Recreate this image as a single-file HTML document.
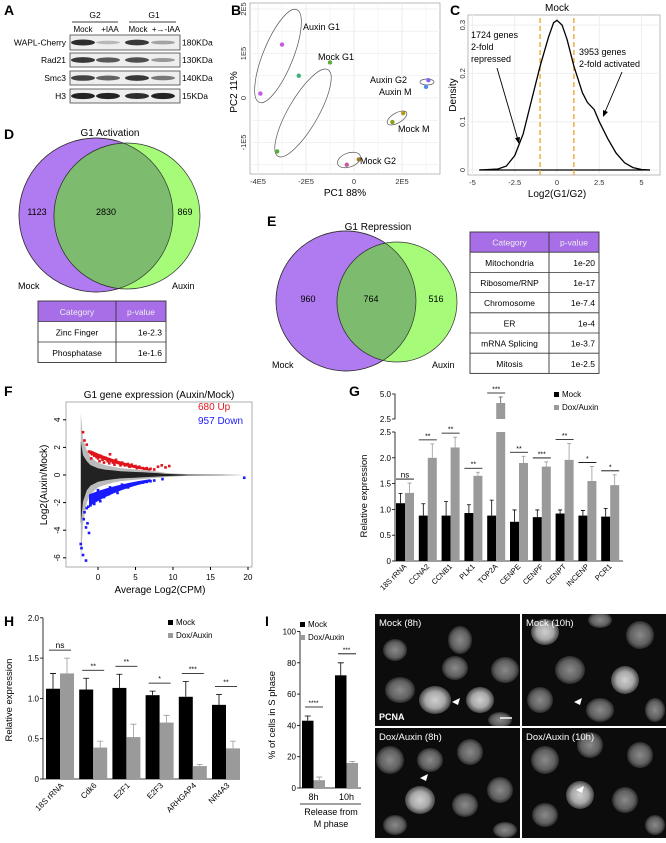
<!DOCTYPE html>
<html><head><meta charset="utf-8"><style>
body{margin:0;background:#fff;width:666px;height:838px;overflow:hidden;font-family:"Liberation Sans",Arial,sans-serif}
svg text{font-family:"Liberation Sans",Arial,sans-serif}
</style></head><body>
<svg id="s" width="666" height="838" viewBox="0 0 666 838" xmlns="http://www.w3.org/2000/svg">
<defs>
<radialGradient id="nuc" cx="50%" cy="50%" r="50%"><stop offset="0" stop-color="#8a8a8a"/><stop offset="0.7" stop-color="#606060"/><stop offset="1" stop-color="#2a2a2a"/></radialGradient>
<radialGradient id="nucb" cx="50%" cy="50%" r="50%"><stop offset="0" stop-color="#d0d0d0"/><stop offset="0.6" stop-color="#a8a8a8"/><stop offset="1" stop-color="#444"/></radialGradient>
</defs>
<g font-weight="bold" font-size="14" fill="#000">
<text x="4" y="15">A</text>
<text x="231" y="15">B</text>
<text x="450" y="15">C</text>
<text x="4" y="139">D</text>
<text x="267" y="226">E</text>
<text x="4" y="396">F</text>
<text x="349" y="396">G</text>
<text x="4" y="626">H</text>
<text x="265" y="626">I</text>
</g>

<g id="pa" font-size="8.5">
<text x="95" y="18" text-anchor="middle">G2</text>
<line x1="72" y1="22" x2="118" y2="22" stroke="#000" stroke-width="0.8"/>
<text x="154" y="18" text-anchor="middle">G1</text>
<line x1="129" y1="22" x2="176" y2="22" stroke="#000" stroke-width="0.8"/>
<text x="83" y="32" text-anchor="middle" font-size="8">Mock</text>
<text x="110" y="32" text-anchor="middle" font-size="8">+IAA</text>
<text x="138" y="32" text-anchor="middle" font-size="8">Mock</text>
<text x="166" y="32" text-anchor="middle" font-size="8">+→-IAA</text>
</g>

<g id="pb"></g>
<g id="pc"></g>

<g font-size="9">
<text x="110" y="136" text-anchor="middle" font-size="10">G1 Activation</text>
<circle cx="96" cy="215" r="77" fill="#b07af0" stroke="#333" stroke-width="0.7"/>
<circle cx="127" cy="216" r="73" fill="#a6fc78" stroke="#333" stroke-width="0.7"/>
<clipPath id="cd"><circle cx="96" cy="215" r="77"/></clipPath>
<circle cx="127" cy="216" r="73" fill="#7dbb6e" stroke="#333" stroke-width="0.7" clip-path="url(#cd)"/>
<circle cx="96" cy="215" r="77" fill="none" stroke="#333" stroke-width="0.7"/>
<text x="37" y="215" text-anchor="middle">1123</text><text x="106" y="215" text-anchor="middle">2830</text><text x="185" y="215" text-anchor="middle">869</text>
<text x="18" y="289">Mock</text><text x="172" y="289">Auxin</text>
</g>
<g id="td"></g>

<g font-size="9">
<text x="378" y="230" text-anchor="middle" font-size="10">G1 Repression</text>
<circle cx="346" cy="301" r="70" fill="#b07af0" stroke="#333" stroke-width="0.7"/>
<circle cx="397" cy="302" r="60" fill="#a6fc78" stroke="#333" stroke-width="0.7"/>
<clipPath id="ce"><circle cx="346" cy="301" r="70"/></clipPath>
<circle cx="397" cy="302" r="60" fill="#7dbb6e" stroke="#333" stroke-width="0.7" clip-path="url(#ce)"/>
<circle cx="346" cy="301" r="70" fill="none" stroke="#333" stroke-width="0.7"/>
<text x="308" y="302" text-anchor="middle">960</text><text x="371" y="302" text-anchor="middle">764</text><text x="436" y="302" text-anchor="middle">516</text>
<text x="272" y="368">Mock</text><text x="432" y="368">Auxin</text>
</g>
<g id="te"></g>

<g id="pf"></g>
<g id="pg"></g>
<g id="ph"></g>
<g id="pi"></g>
<g id="pm"></g>
</svg>
<script>
const NS="http://www.w3.org/2000/svg";
function mk(p,t,a,txt){const e=document.createElementNS(NS,t);for(const k in a)e.setAttribute(k,a[k]);if(txt!==undefined)e.textContent=txt;p.appendChild(e);return e;}
const $=id=>document.getElementById(id);

// ---------- A: blot ----------
const blotRows=["WAPL-Cherry","Rad21","Smc3","H3"];
const blotKDa=["180KDa","130KDa","140KDa","15KDa"];
const blotIntensity=[[0.9,0.25,0.85,0.35],[0.85,0.7,0.75,0.4],[0.8,0.65,0.85,0.55],[0.95,0.95,0.9,0.95]];
const rowY=[35,53,71,89],rowH=[15,14,14,14],laneX=[83,108,137,163];
(function(){const g=$("pa");
blotRows.forEach((r,i)=>{
 const b=mk(g,"rect",{x:70,y:rowY[i],width:110,height:rowH[i],fill:"#eee",stroke:"#444","stroke-width":0.8});
 
 const l=mk(g,"text",{x:66,y:rowY[i]+rowH[i]/2+3,"text-anchor":"end"},r);
 
 mk(g,"text",{x:182,y:rowY[i]+rowH[i]/2+3},blotKDa[i]);
 blotIntensity[i].forEach((v,j)=>{
  const e=mk(g,"ellipse",{cx:laneX[j],cy:rowY[i]+rowH[i]/2,rx:12,ry:1.2+2*v,fill:"#000","fill-opacity":v*0.9});
  
 });
});})();

// ---------- B: PCA ----------
const pcaX=[-2.6,-3.0,-3.9,-1.0,-2.3,-3.2,-0.3,0.2,3.1,3.0,2.05,1.6];
const pcaY=[2.5,1.2,0.1,0.8,0.5,-1.2,-1.5,-1.38,0.4,0.25,-0.34,-0.54];
const pcaColor=["#e8449a","#c55be0","#c55be0","#57b033","#3ab07a","#57b033","#c55b9a","#a07a20","#8a66e8","#4a8ef0","#b59a20","#8fa018"];
(function(){const g=$("pb");const X=v=>354+v*24,Y=v=>98-v*44.5;
mk(g,"rect",{x:250,y:3,width:190,height:171,fill:"#fff",stroke:"#aaa","stroke-width":0.8});
[-4,-3,-2,-1,0,1,2,3].forEach(t=>mk(g,"line",{x1:X(t),x2:X(t),y1:3,y2:174,stroke:"#eee","stroke-width":t%2?0.5:1}));
[-1.5,-1,-0.5,0,0.5,1,1.5,2].forEach(t=>mk(g,"line",{x1:250,x2:440,y1:Y(t),y2:Y(t),stroke:"#eee","stroke-width":0.8}));
[[-4,"-4E5"],[-2,"-2E5"],[0,"0"],[2,"2E5"]].forEach(([t,l])=>mk(g,"text",{x:X(t),y:184,"text-anchor":"middle","font-size":7.5,fill:"#333"},l));
[[2,"2E5"],[1,"1E5"],[0,"0"],[-1,"-1E5"]].forEach(([t,l])=>mk(g,"text",{x:246,y:Y(t),"text-anchor":"middle","font-size":7.5,fill:"#333",transform:`rotate(-90 246 ${Y(t)})`},l));
mk(g,"text",{x:345,y:196,"text-anchor":"middle","font-size":10},"PC1 88%");
mk(g,"text",{x:237,y:92,"text-anchor":"middle","font-size":10,transform:"rotate(-90 237 92)"},"PC2 11%");
[[278,56,15,50,22],[303,113,15,50,30],[349,160,12,7,-20],[427,82,7,3,0],[397,118,11,5,-30]].forEach(e=>mk(g,"ellipse",{cx:e[0],cy:e[1],rx:e[2],ry:e[3],transform:`rotate(${e[4]} ${e[0]} ${e[1]})`,fill:"none",stroke:"#555","stroke-width":0.7}));
pcaX.forEach((v,i)=>{const c=mk(g,"circle",{cx:X(v),cy:Y(pcaY[i]),r:2.2,fill:pcaColor[i]});});
[["Auxin G1",303,30],["Mock G1",318,60],["Auxin G2",370,83],["Auxin M",379,95],["Mock M",398,132],["Mock G2",360,164]].forEach(t=>mk(g,"text",{x:t[1],y:t[2],"font-size":9},t[0]));
})();

// ---------- C: density ----------
const densX=[-4.6,-3.5,-3,-2.5,-2,-1.5,-1,-0.5,-0.2,0,0.3,0.6,1,1.5,1.8,2.2,2.5,3,3.5,4,4.5,5,5.5];
const densY=[0,0.002,0.008,0.03,0.075,0.145,0.215,0.275,0.305,0.31,0.3,0.27,0.215,0.16,0.14,0.125,0.1,0.065,0.035,0.015,0.005,0.001,0];
(function(){const g=$("pc");const X=v=>557+v*16.9,Y=v=>170-v*483;
mk(g,"rect",{x:468,y:15,width:192,height:160,fill:"#fff",stroke:"#aaa","stroke-width":0.8});
[-5,-2.5,0,2.5,5].forEach(t=>mk(g,"line",{x1:X(t),x2:X(t),y1:15,y2:175,stroke:"#eee"}));
[0,0.1,0.2,0.3].forEach(t=>mk(g,"line",{x1:468,x2:660,y1:Y(t),y2:Y(t),stroke:"#eee"}));
[-5,-2.5,0,2.5,5].forEach(t=>mk(g,"text",{x:X(t),y:185,"text-anchor":"middle","font-size":7.5,fill:"#333"},String(t)));
[0,0.1,0.2,0.3].forEach(t=>mk(g,"text",{x:465,y:Y(t),"text-anchor":"middle","font-size":7.5,fill:"#333",transform:`rotate(-90 465 ${Y(t)})`},String(t)));
mk(g,"text",{x:557,y:11,"text-anchor":"middle","font-size":10},"Mock");
mk(g,"text",{x:557,y:197,"text-anchor":"middle","font-size":10},"Log2(G1/G2)");
mk(g,"text",{x:456,y:95,"text-anchor":"middle","font-size":10,transform:"rotate(-90 456 95)"},"Density");
mk(g,"line",{x1:X(-4.6),x2:X(5.5),y1:Y(0),y2:Y(0),stroke:"#000","stroke-width":1.2});
[-1,1].forEach(t=>mk(g,"line",{x1:X(t),x2:X(t),y1:18,y2:175,stroke:"#f0a020","stroke-width":1.3,"stroke-dasharray":"5,3"}));
let d=densX.map((v,i)=>(i?"L":"M")+X(v).toFixed(1)+","+Y(densY[i]).toFixed(1)).join("");
const p=mk(g,"path",{d,fill:"none",stroke:"#000","stroke-width":1.3});
[["1724 genes",38],["2-fold",50],["repressed",62]].forEach(t=>mk(g,"text",{x:471,y:t[1],"font-size":9},t[0]));
[["3953 genes",55],["2-fold activated",67]].forEach(t=>mk(g,"text",{x:579,y:t[1],"font-size":9},t[0]));
mk(g,"line",{x1:497,y1:68,x2:518,y2:140,stroke:"#000","stroke-width":0.9});
mk(g,"path",{d:"M519,144 l-4,-6 l5,-1z"});
mk(g,"line",{x1:622,y1:72,x2:605,y2:112,stroke:"#000","stroke-width":0.9});
mk(g,"path",{d:"M603,117 l0,-7 l5,2z"});
})();

// ---------- tables ----------
function table(gid,x,y,cw,rh,rows){const g=$(gid);
 mk(g,"rect",{x,y,width:cw[0]+cw[1],height:rh,fill:"#a86ee8"});
 mk(g,"text",{x:x+cw[0]/2,y:y+rh/2+3.5,"text-anchor":"middle","font-size":8.5,fill:"#eee"},"Category");
 mk(g,"text",{x:x+cw[0]+cw[1]/2,y:y+rh/2+3.5,"text-anchor":"middle","font-size":8.5,fill:"#eee"},"p-value");
 rows.forEach((r,i)=>{const yy=y+rh*(i+1);
  mk(g,"text",{x:x+cw[0]/2,y:yy+rh/2+3.5,"text-anchor":"middle","font-size":8.5},r[0]);
  mk(g,"text",{x:x+cw[0]+cw[1]-4,y:yy+rh/2+3.5,"text-anchor":"end","font-size":8.5},r[1]);
  mk(g,"line",{x1:x,x2:x+cw[0]+cw[1],y1:yy,y2:yy,stroke:"#333","stroke-width":0.8});});
 mk(g,"rect",{x,y,width:cw[0]+cw[1],height:rh*(rows.length+1),fill:"none",stroke:"#333","stroke-width":0.9});
 mk(g,"line",{x1:x+cw[0],x2:x+cw[0],y1:y,y2:y+rh*(rows.length+1),stroke:"#333","stroke-width":0.9});}
table("td",38,301,[78,50],20.5,[["Zinc Finger","1e-2.3"],["Phosphatase","1e-1.6"]]);
table("te",470,232,[79,50],20.2,[["Mitochondria","1e-20"],["Ribosome/RNP","1e-17"],["Chromosome","1e-7.4"],["ER","1e-4"],["mRNA Splicing","1e-3.7"],["Mitosis","1e-2.5"]]);

// ---------- F: MA plot ----------
const cloudA=[-2.3,-2,-1.5,-1,0,1,2,3,4,5,6,7,8,9,12,16,19.5];
const cloudUp=[4.5,2.6,1.8,1.3,0.9,0.7,0.6,0.5,0.45,0.4,0.35,0.3,0.25,0.15,0.05,0.02,0];
const cloudDn=[-6.5,-3.5,-2,-1.4,-0.9,-0.7,-0.55,-0.45,-0.4,-0.35,-0.3,-0.25,-0.2,-0.15,-0.05,-0.02,0];
const upA=[-2,-1.8,-1.5,-1.2,-1,-0.8,-0.5,-0.2,0,0.3,0.6,1,1.3,1.6,2,2.4,2.8,3.2,3.6,4,4.5,5,5.5,6,6.5,7,7.5,8,8.5,9,9.5,-0.9,0.2,0.8,1.5,2.2,3,4.2,5.2,6.2];
const upM=[3.1,2.5,2.2,1.7,1.6,1.5,1.4,1.3,1.2,1.4,1.1,1.25,1.0,1.5,0.9,1.1,0.85,0.9,0.7,0.8,0.75,0.65,0.6,0.5,0.5,0.45,0.4,0.6,0.7,0.55,0.65,1.2,1.0,0.9,0.85,0.75,0.7,0.6,0.5,0.45];
const dnA=[-2.3,-2.2,-2,-1.9,-1.8,-1.6,-1.5,-1.3,-1.2,-1,-0.8,-0.5,-0.2,0,0.3,0.6,1,1.4,1.8,2.2,2.6,3,3.5,4,4.5,5,5.5,6,6.5,7,7.5,8.6,19.5,-0.9,0,0.8,1.6,2.4,3.2,-1.6,-1.4];
const dnM=[-5,-5.3,-5.8,-3.2,-2.7,-3.8,-2.4,-2.3,-4.2,-2.2,-1.9,-2.1,-1.6,-1.5,-1.9,-1.3,-1.2,-1.4,-1.1,-1.0,-1.3,-0.9,-0.8,-0.9,-0.7,-0.65,-0.6,-0.55,-0.5,-0.45,-0.4,-0.3,-0.2,-1.7,-1.1,-1.6,-0.9,-1.1,-0.7,-6.2,-3.5];
(function(){const g=$("pf");const X=v=>98+v*7.5,Y=v=>475-v*13.8;
mk(g,"text",{x:159,y:398,"text-anchor":"middle","font-size":10},"G1 gene expression (Auxin/Mock)");
mk(g,"rect",{x:66,y:402,width:186,height:165,fill:"#fff",stroke:"#999","stroke-width":0.8});
[0,5,10,15,20].forEach(t=>{mk(g,"line",{x1:X(t),x2:X(t),y1:567,y2:570,stroke:"#000"});mk(g,"text",{x:X(t),y:580,"text-anchor":"middle","font-size":8},String(t));});
[4,2,0,-2,-4,-6].forEach(t=>{mk(g,"line",{x1:63,x2:66,y1:Y(t),y2:Y(t),stroke:"#000"});mk(g,"text",{x:60,y:Y(t),"text-anchor":"middle","font-size":8,transform:`rotate(-90 60 ${Y(t)})`},String(t));});
mk(g,"text",{x:160,y:593,"text-anchor":"middle","font-size":10},"Average Log2(CPM)");
mk(g,"text",{x:47,y:485,"text-anchor":"middle","font-size":10,transform:"rotate(-90 47 485)"},"Log2(Auxin/Mock)");
let d="M"+cloudA.map((a,i)=>X(a).toFixed(1)+","+Y(cloudUp[i]).toFixed(1)).join("L")+"L"+cloudA.slice().reverse().map((a,i)=>X(a).toFixed(1)+","+Y(cloudDn[cloudA.length-1-i]).toFixed(1)).join("L")+"Z";
mk(g,"path",{d,fill:"#bbb"});
let d2="M"+cloudA.map((a,i)=>X(a).toFixed(1)+","+Y(cloudUp[i]*0.55).toFixed(1)).join("L")+"L"+cloudA.slice().reverse().map((a,i)=>X(a).toFixed(1)+","+Y(cloudDn[cloudA.length-1-i]*0.55).toFixed(1)).join("L")+"Z";
mk(g,"path",{d:d2,fill:"#222"});
upA.forEach((a,i)=>{const c=mk(g,"rect",{x:X(a)-1.3,y:Y(upM[i])-1.3,width:2.6,height:2.6,fill:"#e0151b"});});
dnA.forEach((a,i)=>{const c=mk(g,"rect",{x:X(a)-1.3,y:Y(dnM[i])-1.3,width:2.6,height:2.6,fill:"#1a1aff"});});
mk(g,"path",{d:`M${X(-1)},${Y(1.5)} Q${X(2)},${Y(0.7)} ${X(7)},${Y(0.3)} L${X(7)},${Y(0.45)} Q${X(2)},${Y(1)} ${X(-1)},${Y(1.8)}Z`,fill:"#e0151b"});
mk(g,"path",{d:`M${X(-1.2)},${Y(-1.4)} Q${X(2)},${Y(-0.7)} ${X(7)},${Y(-0.3)} L${X(7)},${Y(-0.5)} Q${X(2)},${Y(-1.1)} ${X(-1.2)},${Y(-2.3)}Z`,fill:"#1a1aff"});
mk(g,"text",{x:198,y:410,"font-size":10,fill:"#e0151b"},"680 Up");
mk(g,"text",{x:198,y:424,"font-size":10,fill:"#1a1aff"},"957 Down");
})();

// ---------- G ----------
const gCats=["18S rRNA","CCNA2","CCNB1","PLK1","TOP2A","CENPE","CENPF","CENPT","INCENP","PCR1"];
const gMock=[1.12,0.88,0.88,0.93,0.88,0.76,0.85,0.92,0.88,0.86];
const gMockErr=[0.19,0.23,0.27,0.16,0.3,0.23,0.14,0.07,0.1,0.16];
const gDox=[1.32,2.0,2.2,1.65,4.1,1.9,1.83,1.96,1.55,1.47];
const gDoxErr=[0.19,0.27,0.2,0.07,0.6,0.13,0.09,0.32,0.28,0.2];
const gSig=["ns","**","**","**","***","**","***","**","*","*"];
const gTicks=[0,0.5,1.0,1.5,2.0,2.5];
(function(){const g=$("pg");const x0=395,gw=22.8,bw=9;
const Y=v=>561-v*51.6;const Yu=v=>419-(v-2.5)*10;
mk(g,"path",{d:`M${x0},${Y(2.5)}V561H623`,fill:"none",stroke:"#000","stroke-width":0.8});
gTicks.forEach(t=>{mk(g,"line",{x1:x0-3,x2:x0,y1:Y(t),y2:Y(t),stroke:"#000","stroke-width":0.8});mk(g,"text",{x:x0-4,y:Y(t)+3,"text-anchor":"end","font-size":8},t?t.toFixed(1):"0");});
mk(g,"path",{d:`M${x0-3},${Yu(5)}H${x0}V${Yu(2.5)}H${x0-3}`,fill:"none",stroke:"#000","stroke-width":0.8});
mk(g,"text",{x:x0-4,y:Yu(5)+3,"text-anchor":"end","font-size":8},"5.0");mk(g,"text",{x:x0-4,y:Yu(2.5)+3,"text-anchor":"end","font-size":8},"2.5");
mk(g,"text",{x:367,y:496,"text-anchor":"middle","font-size":9.5,transform:"rotate(-90 367 496)"},"Relative expression");
gCats.forEach((c,i)=>{const xm=x0+1+i*gw,xd=xm+bw;
 const bm=mk(g,"rect",{x:xm,y:Y(gMock[i]),width:bw,height:561-Y(gMock[i]),fill:"#000"});
 mk(g,"path",{d:`M${xm+bw/2},${Y(gMock[i])}V${Y(gMock[i]+gMockErr[i])}M${xm+bw/2-2},${Y(gMock[i]+gMockErr[i])}h4`,stroke:"#000","stroke-width":0.8});
 let top,capY;
 if(gDox[i]>2.5){top=Y(2.5);const bu=mk(g,"rect",{x:xd,y:Yu(gDox[i]),width:bw,height:Yu(2.5)-Yu(gDox[i]),fill:"#9a9a9a"});capY=Yu(gDox[i]+gDoxErr[i]);mk(g,"path",{d:`M${xd+bw/2},${Yu(gDox[i])}V${capY}M${xd+bw/2-2},${capY}h4`,stroke:"#555","stroke-width":0.8});}
 else{top=Y(gDox[i]);capY=Y(gDox[i]+gDoxErr[i]);mk(g,"path",{d:`M${xd+bw/2},${top}V${capY}M${xd+bw/2-2},${capY}h4`,stroke:"#999","stroke-width":0.8});}
 const bd=mk(g,"rect",{x:xd,y:top,width:bw,height:561-top,fill:"#9a9a9a"});
 const sy=capY-4;mk(g,"line",{x1:xm,x2:xd+bw,y1:sy,y2:sy,stroke:"#000","stroke-width":0.8});
 mk(g,"text",{x:xm+bw,y:sy-1.5,"text-anchor":"middle","font-size":gSig[i]=="ns"?8:7},gSig[i]);
 const cx=xm+bw+2,cy=567;mk(g,"text",{x:cx,y:cy,"text-anchor":"end","font-size":7.5,transform:`rotate(-45 ${cx} ${cy})`},c);
});
mk(g,"rect",{x:554,y:392,width:5,height:5,fill:"#000"});mk(g,"text",{x:562,y:397,"font-size":8},"Mock");
mk(g,"rect",{x:554,y:405,width:5,height:5,fill:"#9a9a9a"});mk(g,"text",{x:562,y:410,"font-size":8},"Dox/Auxin");
})();

// ---------- H ----------
const hCats=["18S rRNA","Cdk6","E2F1","E2F3","ARHGAP4","NR4A3"];
const hMock=[1.12,1.11,1.13,1.04,1.02,0.92];
const hMockErr=[0.19,0.14,0.17,0.05,0.19,0.13];
const hDox=[1.31,0.39,0.52,0.70,0.16,0.38];
const hDoxErr=[0.19,0.08,0.16,0.09,0.02,0.09];
const hSig=["ns","**","**","*","***","**"];
const hTicks=[0,0.5,1.0,1.5,2.0];
(function(){const g=$("ph");const x0=43,gw=33.2,bw=14;const Y=v=>779-v*80.6;
mk(g,"path",{d:`M${x0},${Y(2)}V779H240`,fill:"none",stroke:"#000","stroke-width":0.8});
hTicks.forEach(t=>{mk(g,"line",{x1:x0-3,x2:x0,y1:Y(t),y2:Y(t),stroke:"#000","stroke-width":0.8});mk(g,"text",{x:x0-4,y:Y(t)+3,"text-anchor":"end","font-size":8},t?t.toFixed(1):"0");});
mk(g,"text",{x:12,y:700,"text-anchor":"middle","font-size":9.5,transform:"rotate(-90 12 700)"},"Relative expression");
hCats.forEach((c,i)=>{const xm=x0+3+i*gw,xd=xm+bw;
 const bm=mk(g,"rect",{x:xm,y:Y(hMock[i]),width:bw,height:779-Y(hMock[i]),fill:"#000"});
 const cm=Y(hMock[i]+hMockErr[i]);mk(g,"path",{d:`M${xm+bw/2},${Y(hMock[i])}V${cm}M${xm+bw/2-3},${cm}h6`,stroke:"#000","stroke-width":0.8});
 const bd=mk(g,"rect",{x:xd,y:Y(hDox[i]),width:bw,height:779-Y(hDox[i]),fill:"#9a9a9a"});
 const cd=Y(hDox[i]+hDoxErr[i]);mk(g,"path",{d:`M${xd+bw/2},${Y(hDox[i])}V${cd}M${xd+bw/2-3},${cd}h6`,stroke:"#999","stroke-width":0.8});
 const sy=Math.min(cm,cd)-8;mk(g,"line",{x1:xm+3,x2:xd+bw-3,y1:sy,y2:sy,stroke:"#000","stroke-width":0.8});
 mk(g,"text",{x:xm+bw,y:sy-2,"text-anchor":"middle","font-size":hSig[i]=="ns"?8.5:7},hSig[i]);
 const cx=xm+bw+4,cy=786;mk(g,"text",{x:cx,y:cy,"text-anchor":"end","font-size":8,transform:`rotate(-45 ${cx} ${cy})`},c);
});
mk(g,"rect",{x:168,y:620,width:5,height:5,fill:"#000"});mk(g,"text",{x:176,y:625,"font-size":8},"Mock");
mk(g,"rect",{x:168,y:633,width:5,height:5,fill:"#9a9a9a"});mk(g,"text",{x:176,y:638,"font-size":8},"Dox/Auxin");
})();

// ---------- I ----------
const iCats=["8h","10h"];
const iMock=[43,72];const iMockErr=[3,8];
const iDox=[5,16];const iDoxErr=[2,1];
const iSig=["****","***"];
const iTicks=[0,20,40,60,80,100];
(function(){const g=$("pi");const x0=300,gw=33,bw=11.5;const Y=v=>788-v*1.565;
mk(g,"path",{d:`M${x0},${Y(100)}V788H361`,fill:"none",stroke:"#000","stroke-width":0.8});
iTicks.forEach(t=>{mk(g,"line",{x1:x0-3,x2:x0,y1:Y(t),y2:Y(t),stroke:"#000","stroke-width":0.8});mk(g,"text",{x:x0-4,y:Y(t)+3,"text-anchor":"end","font-size":8},String(t));});
mk(g,"text",{x:275,y:715,"text-anchor":"middle","font-size":9.5,transform:"rotate(-90 275 715)"},"% of cells in S phase");
iCats.forEach((c,i)=>{const xm=x0+2+i*gw,xd=xm+bw;
 const bm=mk(g,"rect",{x:xm,y:Y(iMock[i]),width:bw,height:788-Y(iMock[i]),fill:"#000"});
 const cm=Y(iMock[i]+iMockErr[i]);mk(g,"path",{d:`M${xm+bw/2},${Y(iMock[i])}V${cm}M${xm+bw/2-3},${cm}h6`,stroke:"#000","stroke-width":0.8});
 const bd=mk(g,"rect",{x:xd,y:Y(iDox[i]),width:bw,height:788-Y(iDox[i]),fill:"#9a9a9a"});
 const cd=Y(iDox[i]+iDoxErr[i]);mk(g,"path",{d:`M${xd+bw/2},${Y(iDox[i])}V${cd}M${xd+bw/2-3},${cd}h6`,stroke:"#999","stroke-width":0.8});
 const sy=cm-9;mk(g,"line",{x1:xm+3,x2:xd+bw-2,y1:sy,y2:sy,stroke:"#000","stroke-width":0.8});
 mk(g,"text",{x:xm+bw,y:sy-2,"text-anchor":"middle","font-size":6.5},iSig[i]);
 mk(g,"text",{x:xm+bw,y:800,"text-anchor":"middle","font-size":9},c);
});
mk(g,"line",{x1:300,x2:361,y1:804,y2:804,stroke:"#000","stroke-width":0.8});
mk(g,"text",{x:331,y:815,"text-anchor":"middle","font-size":9},"Release from");
mk(g,"text",{x:331,y:827,"text-anchor":"middle","font-size":9},"M phase");
mk(g,"rect",{x:300,y:622,width:5,height:5,fill:"#000"});mk(g,"text",{x:308,y:627,"font-size":8},"Mock");
mk(g,"rect",{x:300,y:635,width:5,height:5,fill:"#9a9a9a"});mk(g,"text",{x:308,y:640,"font-size":8},"Dox/Auxin");
})();

// ---------- microscopy ----------
(function(){const g=$("pm");
const panels=[[375,614,145,112,"Mock (8h)"],[522,614,144,112,"Mock (10h)"],[375,728,145,110,"Dox/Auxin (8h)"],[522,728,144,110,"Dox/Auxin (10h)"]];
const nuclei=[
 [[460,640,12,14,0],[400,690,15,13,0],[435,700,16,14,1],[480,700,14,13,1],[505,670,14,13,0],[455,668,13,12,0],[395,650,12,11,0],[500,720,12,8,0]],
 [[545,632,14,13,1],[600,620,12,8,0],[640,635,14,14,0],[570,670,15,14,0],[625,680,14,14,1],[540,700,13,13,0],[600,710,14,12,0],[655,710,10,12,0]],
 [[390,760,14,14,0],[430,760,13,12,0],[470,752,13,13,0],[420,800,15,14,1],[465,805,13,12,0],[500,790,13,13,0],[395,825,12,10,0],[505,830,12,8,0]],
 [[545,760,14,14,0],[590,745,13,13,0],[640,755,13,13,0],[580,795,14,14,1],[625,800,13,13,0],[545,815,13,12,0],[655,825,10,10,0]]];
panels.forEach((p,i)=>{const r=mk(g,"rect",{x:p[0],y:p[1],width:p[2],height:p[3],fill:"#0c0c0c"});
 const cp=mk(g,"clipPath",{id:"mc"+i});mk(cp,"rect",{x:p[0],y:p[1],width:p[2],height:p[3]});
 const gg=mk(g,"g",{"clip-path":`url(#mc${i})`});
 nuclei[i].forEach(n=>mk(gg,"ellipse",{cx:n[0],cy:n[1],rx:n[2],ry:n[3],fill:n[4]?"url(#nucb)":"url(#nuc)"}));
 mk(g,"text",{x:p[0]+4,y:p[1]+12,"font-size":9.5,fill:"#fff"},p[4]);});
mk(g,"text",{x:379,y:720,"font-size":9,"font-weight":"bold",fill:"#fff"},"PCNA");
mk(g,"line",{x1:500,x2:512,y1:718,y2:718,stroke:"#fff","stroke-width":1.5});
[[452,702],[574,702],[420,778],[576,790]].forEach(a=>mk(g,"path",{d:`M${a[0]},${a[1]} l8,-4 l-2,7z`,fill:"#fff"}));
})();
</script>
</body></html>
